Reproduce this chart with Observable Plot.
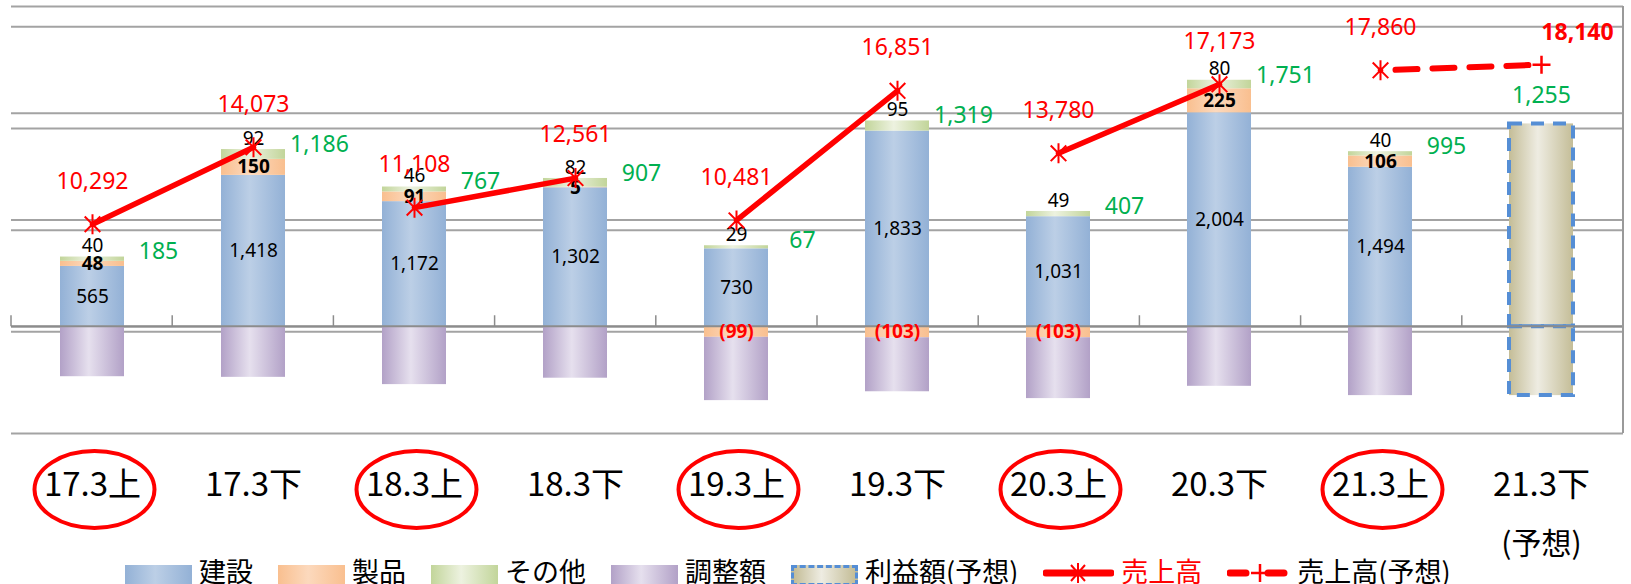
<!DOCTYPE html>
<html>
<head>
<meta charset="utf-8">
<script src="https://cdn.jsdelivr.net/npm/d3@7"></script>
<script src="https://cdn.jsdelivr.net/npm/@observablehq/plot@0.6"></script>
<style>
  html, body { margin: 0; padding: 0; background: #fff; }
  body { width: 1631px; height: 584px; overflow: hidden; font-family: "Noto Sans CJK JP", "Noto Sans", sans-serif; }
  #chart { height: 566px; }
  #legend { position: relative; display: flex; align-items: flex-start; height: 27px; margin-top: -9px; padding-left: 125px; gap: 25px; }
  .item { display: flex; align-items: flex-start; gap: 7px; height: 27px; }
  .sw { width: 67px; height: 21px; margin-top: 8px; box-sizing: border-box; }
  .lab { font-size: 27px; line-height: 27px; color: #000; white-space: nowrap; }
  .ln { margin-top: 4px; }
</style>
</head>
<body>
<div id="chart"></div>
<div id="legend"></div>
<script>
// ---------------- data ----------------
const periods = ["17.3上", "17.3下", "18.3上", "18.3下", "19.3上", "19.3下", "20.3上", "20.3下", "21.3上", "21.3下"];
const forecastPeriod = "21.3下";
const forecastNote = "(予想)";
const seriesNames = ["建設", "製品", "その他", "調整額"];
const construction = [565, 1418, 1172, 1302, 730, 1833, 1031, 2004, 1494, null];
const products     = [48, 150, 91, 5, -99, -103, -103, 225, 106, null];
const others       = [40, 92, 46, 82, 29, 95, 49, 80, 40, null];
const adjustments  = [-468, -474, -542, -482, -593, -506, -570, -558, -645, null];
const profit       = [185, 1186, 767, 907, 67, 1319, 407, 1751, 995, 1255];
const profitForecastParts = [1900, -645];
const sales         = [10292, 14073, 11108, 12561, 10481, 16851, 13780, 17173, 17860, null];
const salesForecast = [null, null, null, null, null, null, null, null, 17860, 18140];
const primaryDomain = [-1000, 3000];
const secondaryDomain = [0, 21000];
const primaryGrid = [3000, 2000, 1000, 0, -1000];
const secondaryGrid = [5000, 10000, 15000, 20000];
const legendLabels = ["建設", "製品", "その他", "調整額", "利益額(予想)", "売上高", "売上高(予想)"];

// ---------------- styles ----------------
const RED = "#ff0000", GREEN = "#00b050";
const gradientColors = {
  "建設": ["#93b1d6", "#bccfe6"],
  "製品": ["#f9bf8f", "#fcd9bd"],
  "その他": ["#c2d59a", "#edf2e0"],
  "調整額": ["#b2a1c7", "#e6e0ee"],
  "利益額(予想)": ["#c4bd97", "#eeece2"]
};
const gradId = k => "grad-" + Object.keys(gradientColors).indexOf(k);

// ---------------- derived tables ----------------
const fmt = d3.format(",");
const fmtSigned = v => v < 0 ? "(" + fmt(-v) + ")" : fmt(v);
const toPrimary = v => primaryDomain[0] + (v - secondaryDomain[0]) *
  (primaryDomain[1] - primaryDomain[0]) / (secondaryDomain[1] - secondaryDomain[0]);

const seriesArrays = [construction, products, others, adjustments];
const stackRows = [];
periods.forEach((p, i) => seriesArrays.forEach((arr, k) => {
  if (arr[i] != null) stackRows.push({period: p, series: seriesNames[k], value: arr[i], profit: profit[i]});
}));
const forecastRows = profitForecastParts.map(v => ({period: forecastPeriod, value: v, profit: profit[periods.indexOf(forecastPeriod)]}));
const salesRows = periods.map((p, i) => ({period: p, fy: p.slice(0, 4), value: sales[i]})).filter(d => d.value != null);
const forecastSalesRows = periods.map((p, i) => ({period: p, value: salesForecast[i]})).filter(d => d.value != null);

// ---------------- custom symbols ----------------
const starSymbol = {draw(ctx, size) {
  const r = Math.sqrt(size / Math.PI), a = r * 0.78;
  ctx.moveTo(-a, -a); ctx.lineTo(a, a);
  ctx.moveTo(a, -a); ctx.lineTo(-a, a);
  ctx.moveTo(0, -r); ctx.lineTo(0, r);
}};
const plusSymbol = {draw(ctx, size) {
  const r = Math.sqrt(size / Math.PI);
  ctx.moveTo(-r, 0); ctx.lineTo(r, 0);
  ctx.moveTo(0, -r); ctx.lineTo(0, r);
}};
const ellipseSymbol = {draw(ctx, size) {
  const r = Math.sqrt(size / Math.PI), rx = r, ry = r * 0.64, k = 0.5523;
  ctx.moveTo(rx, 0);
  ctx.bezierCurveTo(rx, ry * k, rx * k, ry, 0, ry);
  ctx.bezierCurveTo(-rx * k, ry, -rx, ry * k, -rx, 0);
  ctx.bezierCurveTo(-rx, -ry * k, -rx * k, -ry, 0, -ry);
  ctx.bezierCurveTo(rx * k, -ry, rx, -ry * k, rx, 0);
  ctx.closePath();
}};

const NS = "http://www.w3.org/2000/svg";
function defsMark() {
  const defs = document.createElementNS(NS, "defs");
  for (const key of Object.keys(gradientColors)) {
    const [edge, mid] = gradientColors[key];
    const g = document.createElementNS(NS, "linearGradient");
    g.setAttribute("id", gradId(key));
    g.setAttribute("x1", "0"); g.setAttribute("x2", "1"); g.setAttribute("y1", "0"); g.setAttribute("y2", "0");
    [[0, edge], [0.45, mid], [1, edge]].forEach(([o, c]) => {
      const s = document.createElementNS(NS, "stop");
      s.setAttribute("offset", o); s.setAttribute("stop-color", c);
      g.appendChild(s);
    });
    defs.appendChild(g);
  }
  return defs;
}
function axisMark(index, scales, values, dims) {
  const g = document.createElementNS(NS, "g");
  const step = (dims.width - dims.marginLeft - dims.marginRight) / periods.length;
  const y0 = scales.y(0);
  const line = (x1, y1, x2, y2, color, w) => {
    const l = document.createElementNS(NS, "line");
    l.setAttribute("x1", x1); l.setAttribute("y1", y1); l.setAttribute("x2", x2); l.setAttribute("y2", y2);
    l.setAttribute("stroke", color); l.setAttribute("stroke-width", w);
    g.appendChild(l);
  };
  line(dims.marginLeft, y0, dims.width - dims.marginRight, y0, "#8c8c8c", 2);
  for (let k = 0; k <= periods.length; k++) {
    const x = dims.marginLeft + k * step;
    line(x, y0 - 11, x, y0, "#8c8c8c", 1.5);
  }
  const xr = dims.width - dims.marginRight;
  line(xr, dims.marginTop, xr, dims.height - dims.marginBottom, "#9a9a9a", 2);
  return g;
}

// ---------------- chart ----------------
const chart = Plot.plot({
  width: 1631,
  height: 566,
  marginTop: 6,
  marginLeft: 11,
  marginRight: 8,
  marginBottom: 133,
  style: {background: "transparent", fontFamily: '"Noto Sans", "Noto Sans CJK JP", sans-serif'},
  x: {type: "band", domain: periods, paddingInner: 0.6, paddingOuter: 0.3, axis: null},
  y: {domain: primaryDomain, axis: null},
  color: {type: "ordinal", domain: seriesNames, range: seriesNames.map(s => `url(#${gradId(s)})`)},
  marks: [
    defsMark,
    Plot.ruleY(primaryGrid, {stroke: "#a3a3a3", strokeWidth: 2}),
    Plot.ruleY(secondaryGrid.map(toPrimary), {stroke: "#a3a3a3", strokeWidth: 2}),
    Plot.barY(stackRows, Plot.stackY({x: "period", y: "value", z: "series", fill: "series"})),
    Plot.barY(forecastRows, Plot.stackY({x: "period", y: "value",
      fill: `url(#${gradId("利益額(予想)")})`, stroke: "#558ed5", strokeWidth: 4, strokeDasharray: "13,9"})),
    axisMark,
    // segment labels
    Plot.text(stackRows, Plot.stackY({x: "period", y: "value", z: "series",
      text: d => d.series === "建設" ? fmt(d.value) : "", fontSize: 19, fill: "#000"})),
    Plot.text(stackRows, Plot.stackY({x: "period", y: "value", z: "series",
      text: d => d.series === "製品" ? fmtSigned(d.value) : "",
      fill: d => d.value < 0 ? RED : "#000", fontSize: 19, fontWeight: "bold"})),
    Plot.text(stackRows, Plot.stackY2({x: "period", y: "value", z: "series",
      text: d => d.series === "その他" ? fmt(d.value) : "", fontSize: 19, fill: "#000", dy: -11})),
    // profit labels
    Plot.text(stackRows, Plot.stackY2({x: "period", y: "value", z: "series",
      text: d => d.series === "その他" ? fmt(d.profit) : "", fontSize: 23, fill: GREEN, dx: 66, dy: -5})),
    Plot.text(forecastRows, Plot.stackY2({x: "period", y: "value",
      text: d => d.value > 0 ? fmt(d.profit) : "", fontSize: 23, fill: GREEN, dy: -28})),
    // sales lines
    Plot.line(salesRows, {x: "period", y: d => toPrimary(d.value), z: "fy", stroke: RED, strokeWidth: 5.5}),
    Plot.line(forecastSalesRows, {x: "period", y: d => toPrimary(d.value), stroke: RED, strokeWidth: 6,
      strokeDasharray: "22,15", strokeDashoffset: 22}),
    Plot.dot(salesRows, {x: "period", y: d => toPrimary(d.value), symbol: starSymbol, r: 10,
      stroke: RED, strokeWidth: 2, fill: "none"}),
    Plot.dot(forecastSalesRows.filter(d => d.period === forecastPeriod), {x: "period", y: d => toPrimary(d.value),
      symbol: plusSymbol, r: 9, stroke: RED, strokeWidth: 2.5, fill: "none"}),
    Plot.text(salesRows, {x: "period", y: d => toPrimary(d.value), text: d => fmt(d.value),
      fill: RED, fontSize: 23, dy: -43}),
    Plot.text(forecastSalesRows.filter(d => d.period === forecastPeriod), {x: "period", y: d => toPrimary(d.value),
      text: d => fmt(d.value), fill: RED, fontSize: 23, fontWeight: "bold", dy: -32, dx: 36}),
    // category labels
    Plot.text(periods, {x: d => d, y: primaryDomain[0], dy: 52, text: d => d, fontSize: 33,
      fontFamily: '"Noto Sans CJK JP", sans-serif', fill: "#000"}),
    Plot.text([forecastNote], {x: () => forecastPeriod, y: primaryDomain[0], dy: 111, text: d => d, fontSize: 30,
      fontFamily: '"Noto Sans CJK JP", sans-serif', fill: "#000"}),
    Plot.dot(periods.filter(p => p.endsWith("上")), {x: d => d, y: primaryDomain[0], dy: 56, dx: 2,
      symbol: ellipseSymbol, r: 60, stroke: RED, strokeWidth: 4, fill: "none"})
  ]
});
document.getElementById("chart").appendChild(chart);

// ---------------- legend ----------------
const legend = document.getElementById("legend");
legendLabels.forEach((label, i) => {
  const item = document.createElement("div");
  item.className = "item";
  let mark;
  if (i < 5) {
    mark = document.createElement("div");
    mark.className = "sw";
    const [edge, mid] = gradientColors[label];
    mark.style.background = `linear-gradient(to right, ${edge} 0%, ${mid} 45%, ${edge} 100%)`;
    if (i === 4) mark.style.border = "3px dashed #558ed5";
  } else {
    mark = document.createElementNS(NS, "svg");
    mark.setAttribute("width", 71); mark.setAttribute("height", 24);
    mark.setAttribute("class", "ln");
    const forecast = i === 6;
    mark.innerHTML = forecast
      ? `<line x1="3" y1="12" x2="60" y2="12" stroke="${RED}" stroke-width="7" stroke-linecap="round" stroke-dasharray="16,22"/>
         <line x1="24" y1="12" x2="42" y2="12" stroke="${RED}" stroke-width="2.5"/>
         <line x1="33" y1="3" x2="33" y2="21" stroke="${RED}" stroke-width="2.5"/>`
      : `<line x1="3" y1="12" x2="68" y2="12" stroke="${RED}" stroke-width="7" stroke-linecap="round"/>
         <path d="M28,4L42,20M42,4L28,20M35,2V22" stroke="${RED}" stroke-width="2" fill="none"/>`;
    mark.style.width = (forecast ? 63 : 71) + "px";
  }
  const text = document.createElement("span");
  text.className = "lab";
  text.textContent = label;
  if (label === "売上高") text.style.color = RED;
  item.appendChild(mark);
  item.appendChild(text);
  legend.appendChild(item);
});
</script>
</body>
</html>
